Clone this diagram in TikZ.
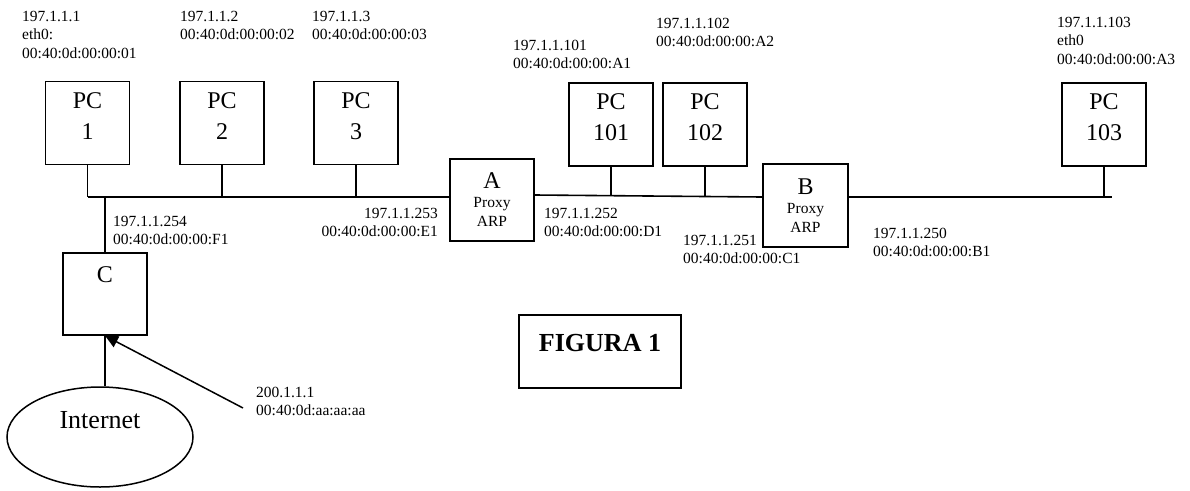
\documentclass[tikz,border=0pt]{standalone}
\usepackage{fontspec}
\setmainfont{Liberation Serif}
\usetikzlibrary{positioning,shapes.geometric,arrows.meta}

\tikzset{
	pcbox/.style={draw, line width=1.5pt, minimum width=84pt, minimum height=83pt, inner sep=0pt, align=center, font=\fontsize{24}{31}\selectfont, text depth=14pt},
	proxybox/.style={draw, line width=1.5pt, minimum width=84pt, minimum height=82pt, inner sep=0pt, align=center, font=\fontsize{15.5}{19}\selectfont},
	addr/.style={inner sep=0pt, align=left, anchor=north west, font=\fontsize{15.5}{18.5}\selectfont},
	bus/.style={line width=1.6pt}
}

\begin{document}
\begin{tikzpicture}[x=1pt, y=-1pt]
		\useasboundingbox (0,0) rectangle (1190,490);
		
		% ---------------------- 主机与代理 ----------------------
		\node (pc1) [pcbox] at (87.5,123) {PC\\1};
		\node (pc2) [pcbox] at (222,123) {PC\\2};
		\node (pc3) [pcbox] at (356,123) {PC\\3};
		\node (A) [proxybox] at (492,200) {{\fontsize{24}{24}\selectfont A}\\Proxy\\ARP};
		\node (pc101) [pcbox] at (611,124.5) {PC\\101};
		\node (pc102) [pcbox] at (705,124.5) {PC\\102};
		\node (B) [proxybox, minimum width=85pt, minimum height=83pt] at (805.5,205.5) {{\fontsize{24}{24}\selectfont B}\\Proxy\\ARP};
		\node (pc103) [pcbox] at (1104,124.5) {PC\\103};
		\node (C) [pcbox, text depth=38pt, minimum height=82pt] at (105,294) {C};
		\node (inet) [ellipse, draw, line width=1.5pt, minimum width=186pt, minimum height=100pt, inner sep=0pt, font=\fontsize{26}{26}\selectfont, text depth=34pt] at (100,437) {Internet};
		\node (fig) [draw, line width=1.5pt, minimum width=162pt, minimum height=73pt, inner sep=0pt, font=\fontsize{26}{26}\selectfont\bfseries, text depth=18pt] at (600,351.5) {FIGURA 1};
		
		% ---------------------- 地址标注 ----------------------
		\node (l1) [addr] at (22,10.7) {197.1.1.1\\eth0:\\00:40:0d:00:00:01};
		\node (l2) [addr] at (180,10.7) {197.1.1.2\\00:40:0d:00:00:02};
		\node (l3) [addr] at (312,10.7) {197.1.1.3\\00:40:0d:00:00:03};
		\node (l101) [addr] at (513,39.7) {197.1.1.101\\00:40:0d:00:00:A1};
		\node (l102) [addr] at (656,17.7) {197.1.1.102\\00:40:0d:00:00:A2};
		\node (l103) [addr] at (1057,16.7) {197.1.1.103\\eth0\\00:40:0d:00:00:A3};
		\node (l254) [addr] at (113,215.7) {197.1.1.254\\00:40:0d:00:00:F1};
		\node (l253) [addr, align=right, anchor=north east] at (438,207.7) {197.1.1.253\\00:40:0d:00:00:E1};
		\node (l252) [addr] at (544,207.7) {197.1.1.252\\00:40:0d:00:00:D1};
		\node (l251) [addr] at (683,234.7) {197.1.1.251\\00:40:0d:00:00:C1};
		\node (l250) [addr] at (873,227.7) {197.1.1.250\\00:40:0d:00:00:B1};
		\node (l200) [addr] at (256,386.7) {200.1.1.1\\00:40:0d:aa:aa:aa};
		
		% ---------------------- 总线 ----------------------
		\coordinate (busL) at (87.5,197);
		\coordinate (a2) at ([yshift=5pt]A.east);
		\coordinate (b2) at ([yshift=8.5pt]B.west);
		\coordinate (b3) at ([yshift=8.5pt]B.east);
		\coordinate (busR) at (1112,197);
		\draw[bus] (busL) -- (busL -| A.west);
		\draw[bus] (a2) -- (b2);
		\draw[bus] (b3) -- (busR);
		\foreach \p in {pc1,pc2,pc3} {
			\draw[bus] (\p.south) -- (\p |- busL); % 向下接到总线
		}
		\draw[bus] (pc101.south) -- (pc101 |- a2);
		\draw[bus] (pc102.south) -- (pc102 |- b2);
		\draw[bus] (pc103.south) -- (pc103 |- busR);
		
		% ---------------------- 路由器 C ----------------------
		\draw[bus] (C.north) -- (C |- busL);
		\draw[bus] (C.south) -- (C.south |- inet.north);
		\coordinate (arr) at (243,408);
		\draw[line width=1.5pt, -{Triangle[length=13pt,width=12pt]}] (arr) -- (C.south);
	\end{tikzpicture}
\end{document}
